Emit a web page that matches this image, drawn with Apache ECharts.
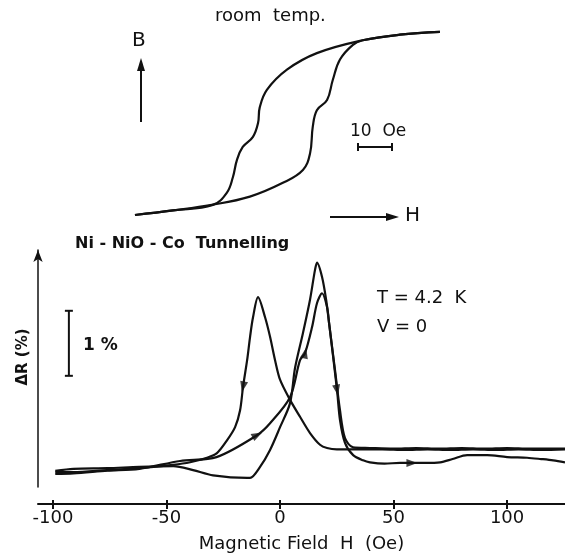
<!DOCTYPE html>
<html>
<head>
<meta charset="utf-8">
<script src="https://cdn.jsdelivr.net/npm/echarts@6/dist/echarts.min.js"></script>
<style>
  html, body { margin: 0; padding: 0; background: #fff; }
  #chart { width: 565px; height: 558px; }
</style>
</head>
<body>
<div id="chart"></div>
<script>
// ---- Room-temperature hysteresis loop (B vs H, arbitrary B units) ----
const loopDownH = [45.6, 33.8, 22.9, 9.4, 0.6, -5.3, -7.4, -7.9, -9.4, -12.4, -14.1, -15.3, -17.1, -21.2, -32.9, -44.1];
const loopDownB = [0.99, 0.96, 0.90, 0.76, 0.58, 0.36, 0.17, 0.0, -0.15, -0.26, -0.40, -0.59, -0.76, -0.89, -0.95, -1.0];
const loopUpH = [-44.1, -32.9, -21.5, -10.3, -0.6, 5.3, 7.4, 8.2, 9.4, 12.4, 14.1, 16.2, 20.0, 22.9, 33.8, 45.6];
const loopUpB = [-1.0, -0.95, -0.89, -0.80, -0.65, -0.51, -0.33, -0.04, 0.14, 0.25, 0.47, 0.69, 0.85, 0.90, 0.96, 0.99];
const loopScaleOe = 10;

// ---- Tunnelling magnetoresistance, Delta R (%) vs H (Oe) ----
// sweep 1, increasing field (arrowed trace)
const up1H  = [-99, -91, -76, -62, -44, -28, -10, -4.4, 4.4, 8.8, 11.0, 14.1, 16.3, 18.5, 20.7, 21.6, 25.1, 26.4, 28.6, 32.2, 36.6, 39.6, 46, 52.9, 58.1, 64, 70.5, 76, 82.4, 91.2, 100, 108.8, 115, 120.3, 125.5];
const up1DR = [-0.03, -0.02, 0.02, 0.05, 0.17, 0.23, 0.57, 0.75, 1.15, 1.72, 1.83, 2.23, 2.60, 2.75, 2.54, 2.29, 1.26, 0.80, 0.45, 0.26, 0.18, 0.15, 0.13, 0.14, 0.14, 0.14, 0.15, 0.20, 0.26, 0.26, 0.23, 0.22, 0.20, 0.18, 0.15];
// sweep 2, decreasing field
const downH  = [125.5, 115, 105, 95, 85, 75, 65, 55, 45, 35, 25, 20.7, 17.6, 13.2, 8.8, 4.4, 0, -2.2, -4.4, -6.6, -9.7, -11.9, -13.2, -14.5, -16.3, -17.6, -19.8, -23.3, -27.8, -32.2, -39.6, -47.1, -61.7, -76.2, -91.2, -99];
const downDR = [0.35, 0.34, 0.35, 0.34, 0.35, 0.34, 0.35, 0.34, 0.35, 0.35, 0.35, 0.37, 0.42, 0.60, 0.85, 1.11, 1.42, 1.72, 2.08, 2.38, 2.69, 2.38, 2.08, 1.72, 1.31, 0.95, 0.69, 0.49, 0.29, 0.22, 0.15, 0.11, 0.06, 0.03, 0.0, 0.0];
// sweep 3, increasing field (trace with the dip)
const up2H  = [-99, -91, -76, -62, -47, -38.3, -29.5, -14.5, -13.2, -8.8, -4.4, 0, 4.4, 6.6, 10.1, 13.2, 15.4, 16.3, 18.5, 20.3, 21.6, 24.2, 26.4, 28.6, 32.2, 39.6, 50, 60, 70, 80, 90, 100, 110, 125.5];
const up2DR = [0.02, 0.05, 0.06, 0.08, 0.09, 0.03, -0.05, -0.09, -0.09, 0.08, 0.34, 0.69, 1.06, 1.60, 2.14, 2.65, 3.11, 3.22, 3.00, 2.65, 2.29, 1.57, 0.95, 0.52, 0.38, 0.37, 0.36, 0.37, 0.36, 0.37, 0.36, 0.37, 0.36, 0.36];

// direction arrows on the traces: [H, Delta R, rotation in degrees]
const arrowMarks = [
  [-16.3, 1.31, 168],
  [-10.0, 0.57, -62],
  [11.0, 1.83, -12],
  [25.1, 1.26, 190],
  [58.1, 0.14, -90]
];

// Delta R scale bar: position in H, lower end, length (%)
const pctBarH = -93;
const pctBarLow = 1.48;
const pctBarLen = 1;

const fieldTicks = [-100, -50, 0, 50, 100];

const zip = (a, b) => a.map((v, i) => [v, b[i]]);

const FONT = '"DejaVu Sans", "Liberation Sans", sans-serif';
const INK = '#111';

const chart = echarts.init(document.getElementById('chart'), null, { renderer: 'canvas' });

function scaleBarItem(vertical) {
  return function (params, api) {
    const a = api.coord([api.value(0), api.value(1)]);
    const b = api.coord(vertical ? [api.value(0), api.value(1) + api.value(2)] : [api.value(0) + api.value(2), api.value(1)]);
    const cap = 4;
    const st = { stroke: INK, lineWidth: 2 };
    const children = [{ type: 'line', shape: { x1: a[0], y1: a[1], x2: b[0], y2: b[1] }, style: st }];
    if (vertical) {
      children.push({ type: 'line', shape: { x1: a[0] - cap, y1: a[1], x2: a[0] + cap, y2: a[1] }, style: st });
      children.push({ type: 'line', shape: { x1: b[0] - cap, y1: b[1], x2: b[0] + cap, y2: b[1] }, style: st });
    } else {
      children.push({ type: 'line', shape: { x1: a[0], y1: a[1] - cap, x2: a[0], y2: a[1] + cap }, style: st });
      children.push({ type: 'line', shape: { x1: b[0], y1: b[1] - cap, x2: b[0], y2: b[1] + cap }, style: st });
    }
    return { type: 'group', children };
  };
}

const traceStyle = { color: INK, width: 2.2 };

const option = {
  backgroundColor: '#fff',
  animation: false,
  grid: [
    { left: 38, right: 0, top: 250, bottom: 71 },
    { left: 120, right: 105, top: 20, bottom: 328 }
  ],
  xAxis: [
    {
      gridIndex: 0, type: 'value', min: -106.6, max: 125.5, offset: 17,
      axisLine: { show: true, onZero: false, lineStyle: { color: INK, width: 2 } },
      axisTick: { show: true, customValues: fieldTicks, length: 5, lineStyle: { color: INK, width: 2 } },
      axisLabel: { show: true, customValues: fieldTicks, color: INK, fontFamily: FONT, fontSize: 18, margin: 5 },
      splitLine: { show: false },
      name: 'Magnetic Field  H  (Oe)', nameLocation: 'middle', nameGap: 31,
      nameTextStyle: { color: INK, fontFamily: FONT, fontSize: 18 }
    },
    {
      gridIndex: 0, type: 'value', min: -106.6, max: 125.5, offset: 17, position: 'bottom',
      axisLine: { show: false, onZero: false },
      axisTick: { show: true, inside: true, customValues: fieldTicks, length: 4, lineStyle: { color: INK, width: 2 } },
      axisLabel: { show: false }, splitLine: { show: false }
    },
    { gridIndex: 1, type: 'value', min: -48.5, max: 51.5, show: false }
  ],
  yAxis: [
    {
      gridIndex: 0, type: 'value', min: -0.23, max: 3.415,
      axisLine: { show: true, onZero: false, symbol: ['none', 'arrow'], symbolSize: [7, 12], lineStyle: { color: INK, width: 1.5 } },
      axisTick: { show: false }, axisLabel: { show: false }, splitLine: { show: false }
    },
    { gridIndex: 1, type: 'value', min: -1.163, max: 1.12, show: false }
  ],
  series: [
    { type: 'line', xAxisIndex: 0, yAxisIndex: 0, data: zip(up1H, up1DR), showSymbol: false, smooth: 0.3, lineStyle: traceStyle },
    { type: 'line', xAxisIndex: 0, yAxisIndex: 0, data: zip(downH, downDR), showSymbol: false, smooth: 0.3, lineStyle: traceStyle },
    { type: 'line', xAxisIndex: 0, yAxisIndex: 0, data: zip(up2H, up2DR), showSymbol: false, smooth: 0.3, lineStyle: traceStyle },
    {
      type: 'scatter', xAxisIndex: 0, yAxisIndex: 0,
      data: arrowMarks.map(d => ({ value: [d[0], d[1]], symbolRotate: d[2] })),
      symbol: 'triangle', symbolSize: [8, 11], itemStyle: { color: INK }
    },
    {
      type: 'custom', xAxisIndex: 0, yAxisIndex: 0,
      data: [[pctBarH, pctBarLow, pctBarLen]],
      renderItem: scaleBarItem(true), silent: true
    },
    { type: 'line', xAxisIndex: 2, yAxisIndex: 1, data: zip(loopDownH, loopDownB), showSymbol: false, smooth: 0.4, lineStyle: traceStyle },
    { type: 'line', xAxisIndex: 2, yAxisIndex: 1, data: zip(loopUpH, loopUpB), showSymbol: false, smooth: 0.4, lineStyle: traceStyle },
    {
      type: 'custom', xAxisIndex: 2, yAxisIndex: 1,
      data: [[21.5, -0.26, loopScaleOe]],
      renderItem: scaleBarItem(false), silent: true
    }
  ],
  graphic: [
    { type: 'text', left: 215, top: 7, style: { text: 'room  temp.', font: '18px ' + FONT, fill: INK } },
    { type: 'text', left: 132, top: 31, style: { text: 'B', font: '20px ' + FONT, fill: INK } },
    { type: 'line', shape: { x1: 141, y1: 122, x2: 141, y2: 68 }, style: { stroke: INK, lineWidth: 2 } },
    { type: 'polygon', shape: { points: [[141, 58], [137, 71], [145, 71]] }, style: { fill: INK } },
    { type: 'line', shape: { x1: 330, y1: 217, x2: 388, y2: 217 }, style: { stroke: INK, lineWidth: 2 } },
    { type: 'polygon', shape: { points: [[399, 217], [386, 213], [386, 221]] }, style: { fill: INK } },
    { type: 'text', left: 405, top: 206, style: { text: 'H', font: '20px ' + FONT, fill: INK } },
    { type: 'text', left: 350, top: 123, style: { text: '10  Oe', font: '17px ' + FONT, fill: INK } },
    { type: 'text', left: 75, top: 236, style: { text: 'Ni - NiO - Co  Tunnelling', font: 'bold 16px ' + FONT, fill: INK } },
    { type: 'text', left: 377, top: 289, style: { text: 'T = 4.2  K', font: '18px ' + FONT, fill: INK } },
    { type: 'text', left: 377, top: 318, style: { text: 'V = 0', font: '18px ' + FONT, fill: INK } },
    { type: 'text', left: 83, top: 337, style: { text: '1 %', font: 'bold 17px ' + FONT, fill: INK } },
    { type: 'text', x: 23, y: 357, rotation: Math.PI / 2, style: { text: 'ΔR (%)', font: 'bold 15px ' + FONT, fill: INK, textAlign: 'center', textVerticalAlign: 'middle' } }
  ]
};

chart.setOption(option);
</script>
</body>
</html>
